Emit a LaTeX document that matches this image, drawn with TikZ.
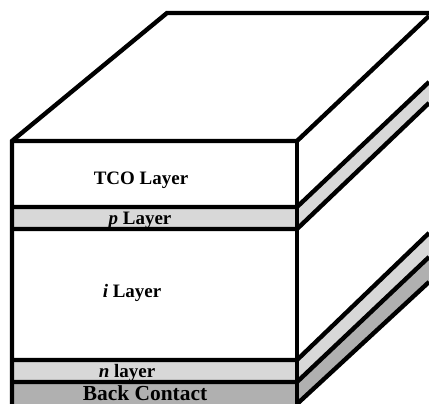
\documentclass[tikz,border=0pt]{standalone}
\usepackage{fontspec}
\setmainfont{Liberation Serif}
\usepackage{xcolor}
\definecolor{lightlayer}{RGB}{216,216,216}
\definecolor{darklayer}{RGB}{176,176,176}
\usepackage{tikz}
\usetikzlibrary{calc}

\begin{document}
\begin{tikzpicture}[
  x=0.02cm, y=-0.02cm,
  edge/.style={line width=2.5pt, line join=miter, draw=black},
  label/.style={font=\fontsize{10.8}{12}\selectfont\bfseries, inner sep=0pt},
]
\useasboundingbox (0,0) rectangle (429,404);
\clip (0,0) rectangle (429,404);

%% --- fills ---
\fill[lightlayer] (12,207) rectangle (297,229);
\fill[lightlayer] (12,360) rectangle (297,382);
\fill[darklayer]  (12,382) rectangle (297,404);
\fill[lightlayer] (297,207) -- (429,82) -- (429,103) -- (297,229) -- cycle;
\fill[lightlayer] (297,360) -- (429,233) -- (429,257) -- (297,382) -- cycle;
\fill[darklayer]  (297,382) -- (429,257) -- (429,282) -- (297,404) -- cycle;

%% --- top and outline ---
\draw[edge] (12,404) -- (12,141) -- (167,13) -- (429,13);
\draw[edge] (12,141) -- (297,141) -- (429,16);
\draw[edge] (297,141) -- (297,404);

%% --- layer lines ---
\draw[edge] (12,207) -- (297,207) -- (429,82);
\draw[edge] (12,229) -- (297,229) -- (429,103);
\draw[edge] (12,360) -- (297,360) -- (429,233);
\draw[edge] (12,382) -- (297,382) -- (429,257);
\draw[edge] (297,404) -- (429,282);

%% --- labels ---
\node[label] (tco)  at (141,180) {TCO Layer};
\node[label] (play) at (140,220) {\textit{p} Layer};
\node[label] (ilay) at (132,293) {\textit{i} Layer};
\node[label] (nlay) at (127,373) {\textit{n} layer};
\node[label, font=\fontsize{12.2}{13}\selectfont\bfseries] (back) at (145,393.5) {Back Contact};
\end{tikzpicture}
\end{document}
